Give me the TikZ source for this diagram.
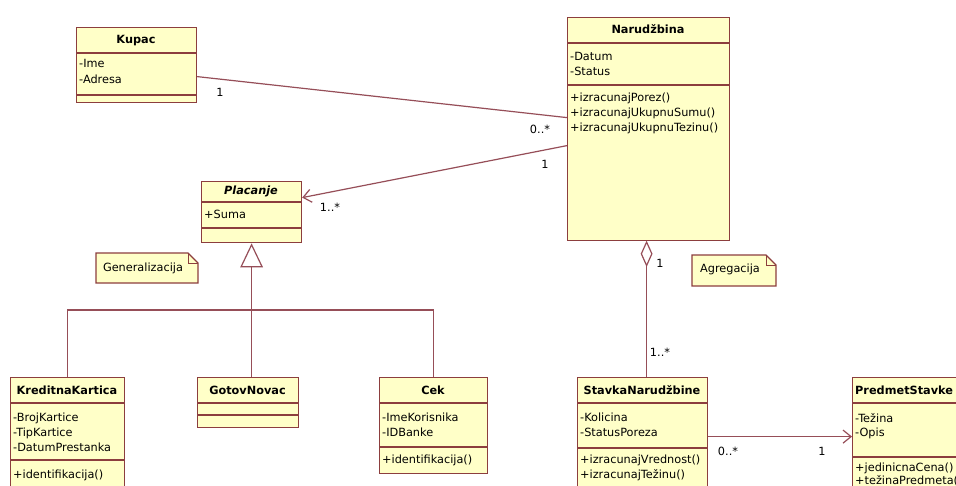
\documentclass[tikz,border=0pt]{standalone}
\usepackage{fontspec}
\setmainfont{DejaVu Sans}
\usetikzlibrary{shapes.geometric,arrows.meta,calc}
\definecolor{bd}{RGB}{140,62,62}
\definecolor{lc}{RGB}{150,78,88}
\definecolor{fillc}{RGB}{255,255,200}
\begin{document}
\begin{tikzpicture}[x=1pt,y=-1pt,
  cls/.style={draw=bd, fill=fillc, line width=1.2pt, inner sep=0pt, anchor=north west},
  sep/.style={draw=bd, line width=1.2pt},
  ttl/.style={font=\fontsize{11.3}{13}\selectfont\bfseries, inner sep=0pt, text height=8.5pt, text depth=2.5pt},
  txt/.style={font=\fontsize{11.3}{13}\selectfont, inner sep=0pt, anchor=west, text height=8.5pt, text depth=2.5pt},
  lbl/.style={font=\fontsize{11.3}{13}\selectfont, inner sep=0pt, text height=8.5pt, text depth=2.5pt},
  conn/.style={draw=lc, line width=1.2pt},
  notebox/.style={draw=bd, fill=fillc, line width=1.2pt},
  opentip/.style={-{Straight Barb[length=8pt,width=13pt,line width=1.2pt]}}
]
\useasboundingbox (0,0) rectangle (956,485);
\clip (0,0) rectangle (956,485);
\fill[white] (0,0) rectangle (956,485);

% ---------- Kupac ----------
\node[cls, minimum width=120pt, minimum height=75pt] (kupac) at (76,27) {};
\draw[sep] (76,53) -- (196,53);
\draw[sep] (76,95) -- (196,95);
\node[ttl] (kupacT) at (136,40) {Kupac};
\node[txt] (kupacA1) at (79,64) {-Ime};
\node[txt] (kupacA2) at (79,80) {-Adresa};

% ---------- Narudzbina ----------
\node[cls, minimum width=162pt, minimum height=223pt] (nar) at (567,17) {};
\draw[sep] (567,43) -- (729,43);
\draw[sep] (567,85) -- (729,85);
\node[ttl] (narT) at (648,30) {Narudžbina};
\node[txt] (narA1) at (570,57) {-Datum};
\node[txt] (narA2) at (570,72) {-Status};
\node[txt] (narO1) at (570,98) {+izracunajPorez()};
\node[txt] (narO2) at (570,113) {+izracunajUkupnuSumu()};
\node[txt] (narO3) at (570,128) {+izracunajUkupnuTezinu()};

% ---------- Placanje ----------
\node[cls, minimum width=100pt, minimum height=61pt] (plac) at (201,181) {};
\draw[sep] (201,202) -- (301,202);
\draw[sep] (201,228) -- (301,228);
\node[ttl, font=\fontsize{11.3}{13}\selectfont\bfseries\itshape] (placT) at (251,191) {Placanje};
\node[txt] (placA1) at (204,215) {+Suma};

% ---------- KreditnaKartica ----------
\node[cls, minimum width=114pt, minimum height=130pt] (kred) at (10,377) {};
\draw[sep] (10,403) -- (124,403);
\draw[sep] (10,460) -- (124,460);
\node[ttl] (kredT) at (67,391) {KreditnaKartica};
\node[txt] (kredA1) at (13,418) {-BrojKartice};
\node[txt] (kredA2) at (13,433) {-TipKartice};
\node[txt] (kredA3) at (13,448) {-DatumPrestanka};
\node[txt] (kredO1) at (13,475) {+identifikacija()};

% ---------- GotovNovac ----------
\node[cls, minimum width=101pt, minimum height=50pt] (gotov) at (197,377) {};
\draw[sep] (197,403) -- (298,403);
\draw[sep] (197,415) -- (298,415);
\node[ttl] (gotovT) at (247.5,391) {GotovNovac};

% ---------- Cek ----------
\node[cls, minimum width=108pt, minimum height=96pt] (cek) at (379,377) {};
\draw[sep] (379,403) -- (487,403);
\draw[sep] (379,447) -- (487,447);
\node[ttl] (cekT) at (433,391) {Cek};
\node[txt] (cekA1) at (382,418) {-ImeKorisnika};
\node[txt] (cekA2) at (382,433) {-IDBanke};
\node[txt] (cekO1) at (382,460) {+identifikacija()};

% ---------- StavkaNarudzbine ----------
\node[cls, minimum width=130pt, minimum height=130pt] (stavka) at (577,377) {};
\draw[sep] (577,403) -- (707,403);
\draw[sep] (577,448) -- (707,448);
\node[ttl] (stavkaT) at (642,391) {StavkaNarudžbine};
\node[txt] (stavkaA1) at (580,418) {-Kolicina};
\node[txt] (stavkaA2) at (580,433) {-StatusPoreza};
\node[txt] (stavkaO1) at (580,460) {+izracunajVrednost()};
\node[txt] (stavkaO2) at (580,475) {+izracunajTežinu()};

% ---------- PredmetStavke ----------
\node[cls, minimum width=130pt, minimum height=130pt] (pred) at (852,377) {};
\draw[sep] (852,403) -- (982,403);
\draw[sep] (852,457) -- (982,457);
\node[ttl, anchor=west] (predT) at (855,391) {PredmetStavke};
\node[txt] (predA1) at (855,419) {-Težina};
\node[txt] (predA2) at (855,433) {-Opis};
\node[txt] (predO1) at (855,468) {+jedinicnaCena()};
\node[txt] (predO2) at (855,481) {+težinaPredmeta()};

% ---------- Notes ----------
\draw[notebox] (96,253) -- (188,253) -- (198,263) -- (198,283) -- (96,283) -- cycle;
\draw[bd, line width=1pt] (188,253) -- (188,263) -- (198,263);
\node[lbl] (genNote) at (143,268) {Generalizacija};
\draw[notebox] (692,255) -- (766,255) -- (776,265) -- (776,286) -- (692,286) -- cycle;
\draw[bd, line width=1pt] (766,255) -- (766,265) -- (776,265);
\node[lbl] (agrNote) at (730,269) {Agregacija};

% ---------- Associations ----------
\draw[conn] ([yshift=-11.5pt]kupac.east) -- ([yshift=11.5pt]nar.west);
\node[lbl] (m1) at (220,93) {1};
\node[lbl] (m2) at (540,130) {0..*};
\draw[conn, opentip] ([yshift=-16.5pt]nar.west) -- ([yshift=14.5pt]plac.east);
\node[lbl] (m3) at (545,165) {1};
\node[lbl] (m4) at (330,208) {1..*};
\draw[conn, opentip] ([yshift=6pt]stavka.east) -- ([yshift=6pt]pred.west);
\node[lbl] (m5) at (728,452) {0..*};
\node[lbl] (m6) at (822,452) {1};

% ---------- Aggregation ----------
\node[diamond, draw=lc, fill=white, line width=1.2pt, minimum width=11pt, minimum height=24pt, inner sep=0pt, anchor=north] (dmd) at ([xshift=-2pt]nar.south) {};
\draw[conn] (dmd.south) -- (dmd.south |- stavka.north);
\node[lbl] (m7) at (660,264) {1};
\node[lbl] (m8) at (660,353) {1..*};

% ---------- Generalization ----------
\node[isosceles triangle, shape border rotate=90, isosceles triangle stretches, draw=lc, fill=white, line width=1.2pt, minimum height=22pt, minimum width=21pt, inner sep=0pt, anchor=apex] (gen) at (plac.south) {};
\draw[conn] (gen.lower side) -- (gen.lower side |- gotov.north);
\draw[conn] (kred.north) -- ++(0,-67) -| (cek.north);
\end{tikzpicture}
\end{document}
